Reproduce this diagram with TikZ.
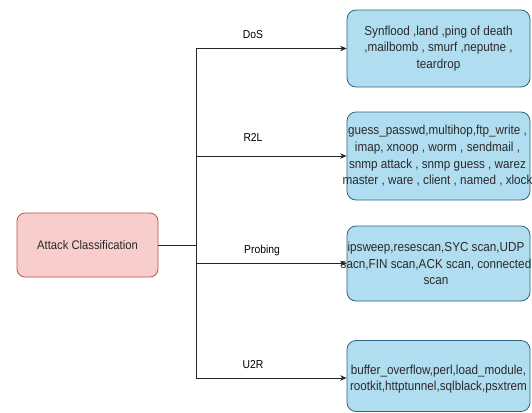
\documentclass[tikz,border=0pt]{standalone}
\usepackage{fontspec}
\setmainfont{Liberation Sans}[FakeStretch=0.9]
\usetikzlibrary{arrows.meta}
\definecolor{pinkfill}{HTML}{F8CECC}
\definecolor{pinkdraw}{HTML}{B85450}
\definecolor{bluefill}{HTML}{B1DDF0}
\definecolor{bluedraw}{HTML}{2F6580}
\definecolor{inkgray}{HTML}{2A2A2A}
\begin{document}
\begin{tikzpicture}[x=1pt,y=-1pt,
  rootbox/.style={draw=pinkdraw,fill=pinkfill,rounded corners=8pt,line width=0.8pt,
    minimum width=141pt,minimum height=64pt,inner sep=0pt,
    font=\fontsize{12.5}{15}\selectfont,text=inkgray},
  leafbox/.style={draw=bluedraw,fill=bluefill,rounded corners=9pt,line width=0.8pt,
    minimum width=183pt,inner sep=0pt},
  leaftext/.style={align=center,inner sep=0pt,text=inkgray,
    font=\fontsize{13}{16.7}\selectfont},
  branchlabel/.style={inner sep=0pt,text=black,font=\fontsize{11.5}{13}\selectfont},
  wire/.style={line width=0.9pt,draw=black!85},
  arrowwire/.style={wire,-{Stealth[length=6.5pt,width=5.5pt]}}
]
\useasboundingbox (0,0) rectangle (532,412);
\fill[white] (0,0) rectangle (532,412);

% root of the classification
\node[rootbox] (root) at (87.5,245) {Attack Classification};

% attack families
\node[leafbox,minimum height=77pt] (dos)   at (438.5,48.5) {};
\node[leafbox,minimum height=88pt] (r2l)   at (438.5,156)  {};
\node[leafbox,minimum height=75pt] (probe) at (438.5,263.5) {};
\node[leafbox,minimum height=71pt] (u2r)   at (438.5,376)  {};

\node[leaftext] (dostxt) at (dos.center)
  {Synflood ,land ,ping of death\\,mailbomb , smurf ,neputne ,\\teardrop};
\node[leaftext] (r2ltxt) at ([xshift=-1pt]r2l.center)
  {guess\_passwd,multihop,ftp\_write ,\\imap, xnoop , worm , sendmail ,\\snmp attack , snmp guess , warez\\master , ware , client , named , xlock};
\node[leaftext] (probetxt) at ([xshift=-2.5pt]probe.center)
  {ipsweep,resescan,SYC scan,UDP\\sacn,FIN scan,ACK scan, connected\\scan};
\node[leaftext] (u2rtxt) at ([yshift=-3pt]u2r.center)
  {buffer\_overflow,perl,load\_module,\\rootkit,httptunnel,sqlblack,psxtrem};

% trunk junctions
\coordinate (jroot)  at (196,245);
\coordinate (jdos)   at (196,48.5);
\coordinate (jr2l)   at (196,156);
\coordinate (jprobe) at (196,263.5);
\coordinate (ju2r)   at (196,378);

\draw[wire] (root.east) -- (jroot);
\draw[wire] (jdos) -- (ju2r);

\draw[arrowwire] (jdos)   -- (jdos -| dos.west);
\draw[arrowwire] (jr2l)   -- (jr2l -| r2l.west);
\draw[arrowwire] (jprobe) -- (jprobe -| probe.west);
\draw[arrowwire] (ju2r)   -- (ju2r -| u2r.west);

% branch labels
\node[branchlabel] (ldos)   at (253,35)  {DoS};
\node[branchlabel] (lr2l)   at (253,137) {R2L};
\node[branchlabel] (lprobe) at (262,251) {Probing};
\node[branchlabel] (lu2r)   at (253,365) {U2R};
\end{tikzpicture}
\end{document}
